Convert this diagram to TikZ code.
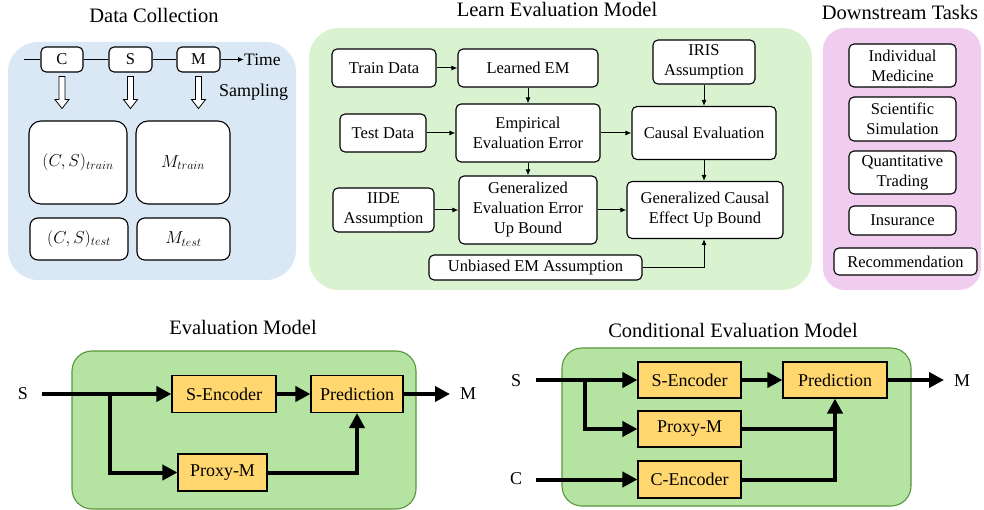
\documentclass[tikz,border=0pt]{standalone}
\usepackage{fontspec}
\setmainfont{Liberation Serif}
\usetikzlibrary{arrows.meta,calc}
\definecolor{pblue}{RGB}{218,232,246}
\definecolor{pgreen}{RGB}{217,242,208}
\definecolor{ppink}{RGB}{240,204,238}
\definecolor{bgreen}{RGB}{180,227,162}
\definecolor{bgreenb}{RGB}{88,150,60}
\definecolor{orbox}{RGB}{255,215,110}
\newcommand{\hollowdown}[1]{\draw[line width=0.8pt,fill=white] ($(#1.south)+(-3,4)$) -- ++(6,0) -- ++(0,23) -- ++(4,0) -- ++(-7,9) -- ++(-7,-9) -- ++(4,0) -- cycle;}
\tikzset{
  tbox/.style={draw, rounded corners=5pt, fill=white, line width=1.1pt, align=center,
    font=\rmfamily\fontsize{16.5}{20}\selectfont, inner sep=0pt},
  dbox/.style={draw, rounded corners=12pt, fill=white, line width=1.1pt, align=center,
    font=\rmfamily\fontsize{17}{20}\selectfont, inner sep=0pt},
  obox/.style={draw, fill=orbox, line width=1.1pt, align=center,
    font=\rmfamily\fontsize{18}{21}\selectfont, inner sep=0pt},
  ptitle/.style={font=\rmfamily\fontsize{20.5}{24}\selectfont, inner sep=0pt},
  lbl/.style={font=\rmfamily\fontsize{18}{21}\selectfont, inner sep=0pt},
  sarr/.style={line width=1pt, -{Latex[length=6pt,width=5pt]}},
  tarr/.style={line width=4pt, -{Triangle[length=15pt,width=15pt]}},
  tline/.style={line width=4pt},
}
\begin{document}
\begin{tikzpicture}[x=1pt,y=-1pt]
\useasboundingbox (0,0) rectangle (984,510);
% ---------------- panels
\fill[pblue] (8,42) [rounded corners=30pt] rectangle (296,280);
\fill[pgreen] (309,28) [rounded corners=30pt] rectangle (812,290);
\fill[ppink] (823,28) [rounded corners=22pt] rectangle (981,290);
\node[ptitle] (t1) at (154,15) {Data Collection};
\node[ptitle] (t2) at (557,9) {Learn Evaluation Model};
\node[ptitle] (t3) at (900,12) {Downstream Tasks};
% ---------------- data collection
\node[tbox, minimum width=42pt, minimum height=25pt] (Ct) at (62,59.5) {C};
\node[tbox, minimum width=43pt, minimum height=25pt] (St) at (130.5,59.5) {S};
\node[tbox, minimum width=43pt, minimum height=25pt] (Mt) at (198.5,59.5) {M};
\coordinate (tl) at (24,59.5);
\node[lbl, font=\rmfamily\fontsize{17.5}{20}\selectfont, anchor=west] (time) at (244,59.5) {Time};
\draw[line width=1pt] (tl) -- (Ct.west);
\draw[line width=1pt] (Ct.east) -- (St.west);
\draw[line width=1pt] (St.east) -- (Mt.west);
\draw[line width=1pt, -{Latex[length=6pt,width=5pt]}] (Mt.east) -- (time.west);
\node[lbl, anchor=west] (samp) at (219,92) {Sampling};
\hollowdown{Ct}
\hollowdown{St}
\hollowdown{Mt}
\node[dbox, minimum width=98pt, minimum height=83pt] (cstrain) at (78,162.5) {$(C,S)_{train}$};
\node[dbox, minimum width=94pt, minimum height=83pt] (mtrain) at (183,162.5) {$M_{train}$};
\node[dbox, rounded corners=8pt, minimum width=98pt, minimum height=42pt] (cstest) at (79,239) {$(C,S)_{test}$};
\node[dbox, rounded corners=8pt, minimum width=93pt, minimum height=42pt] (mtest) at (183.5,239) {$M_{test}$};
% ---------------- learn evaluation model
\node[tbox, minimum width=104pt, minimum height=38pt] (train) at (384,68) {Train Data};
\node[tbox, minimum width=140pt, minimum height=38pt] (lem) at (528,68) {Learned EM};
\node[tbox, minimum width=102pt, minimum height=44pt] (iris) at (704,62) {IRIS\\Assumption};
\node[tbox, minimum width=86pt, minimum height=38pt] (test) at (383,133) {Test Data};
\node[tbox, minimum width=144pt, minimum height=58pt] (emp) at (528,133) {Empirical\\Evaluation Error};
\node[tbox, minimum width=144pt, minimum height=53pt] (ceval) at (704,133) {Causal Evaluation};
\node[tbox, minimum width=101pt, minimum height=44pt] (iide) at (383.5,210) {IIDE\\Assumption};
\node[tbox, minimum width=138pt, minimum height=68pt] (genee) at (528,210) {Generalized\\Evaluation Error\\Up Bound};
\node[tbox, minimum width=156pt, minimum height=57pt] (gencausal) at (705,210) {Generalized Causal\\Effect Up Bound};
\node[tbox, minimum width=213pt, minimum height=25pt] (unb) at (535.5,267.5) {Unbiased EM Assumption};
\draw[sarr] (train) -- (lem);
\draw[sarr] (lem) -- (emp);
\draw[sarr] (test) -- (emp);
\draw[sarr] (emp) -- (ceval);
\draw[sarr] (iris) -- (iris |- ceval.north);
\draw[sarr] (emp) -- (genee);
\draw[sarr] (iide) -- (genee);
\draw[sarr] (genee) -- (gencausal);
\draw[sarr] (ceval.south) -- (ceval.south |- gencausal.north);
\draw[sarr] (unb.east) -| (ceval.south |- gencausal.south);
% ---------------- downstream
\node[tbox, minimum width=107pt, minimum height=43pt] (ind) at (902.5,65.5) {Individual\\Medicine};
\node[tbox, minimum width=107pt, minimum height=44pt] (sci) at (902.5,119) {Scientific\\Simulation};
\node[tbox, minimum width=107pt, minimum height=43pt] (quant) at (902.5,172.5) {Quantitative\\Trading};
\node[tbox, minimum width=107pt, minimum height=29pt] (ins) at (902.5,220.5) {Insurance};
\node[tbox, minimum width=143pt, minimum height=27pt] (rec) at (905.5,261.5) {Recommendation};
% ---------------- evaluation model
\draw[bgreenb, fill=bgreen, line width=1.1pt, rounded corners=20pt] (72,351) rectangle (416,509);
\node[ptitle] (t4) at (243,327) {Evaluation Model};
\node[lbl] (sA) at (23,394) {S};
\node[lbl] (mA) at (468,394) {M};
\node[obox, minimum width=104pt, minimum height=37pt] (sencA) at (224,394) {S-Encoder};
\node[obox, minimum width=92pt, minimum height=37pt] (predA) at (357,394) {Prediction};
\node[obox, minimum width=89pt, minimum height=37pt] (proxyA) at (222.5,472.5) {Proxy-M};
\coordinate (sinA) at (42,394);
\coordinate (brA) at (110,394);
\coordinate (moutA) at (450,394);
\draw[tarr] (sinA) -- (sencA.west);
\draw[tarr] (brA) |- (proxyA.west);
\draw[tarr] (sencA) -- (predA);
\draw[tarr] (predA) -- (moutA);
\draw[tarr] (proxyA.east) -| (predA.south);
% ---------------- conditional evaluation model
\draw[bgreenb, fill=bgreen, line width=1.1pt, rounded corners=20pt] (562,348) rectangle (911,506);
\node[ptitle] (t5) at (733,330) {Conditional Evaluation Model};
\node[lbl] (sB) at (516,381) {S};
\node[lbl] (cB) at (516,479) {C};
\node[lbl] (mB) at (962,381) {M};
\node[obox, minimum width=103pt, minimum height=36pt] (sencB) at (689.5,380) {S-Encoder};
\node[obox, minimum width=104pt, minimum height=36pt] (predB) at (835,380) {Prediction};
\node[obox, minimum width=103pt, minimum height=36pt] (proxyB) at (689.5,429) {Proxy-M};
\node[obox, minimum width=103pt, minimum height=37pt] (cencB) at (689.5,479.5) {C-Encoder};
\coordinate (sinB) at (536,380);
\coordinate (brB) at (585,380);
\coordinate (cinB) at (536,479.5);
\coordinate (moutB) at (944,380);
\draw[tarr] (sinB) -- (sencB.west);
\draw[tarr] (brB) |- (proxyB.west);
\draw[tarr] (sencB) -- (predB);
\draw[tarr] (predB) -- (moutB);
\draw[tarr] (cinB) -- (cencB.west);
\draw[tline] (proxyB.east) -- (proxyB.east -| predB.south);
\draw[tarr] (cencB.east) -| (predB.south);
\end{tikzpicture}
\end{document}
